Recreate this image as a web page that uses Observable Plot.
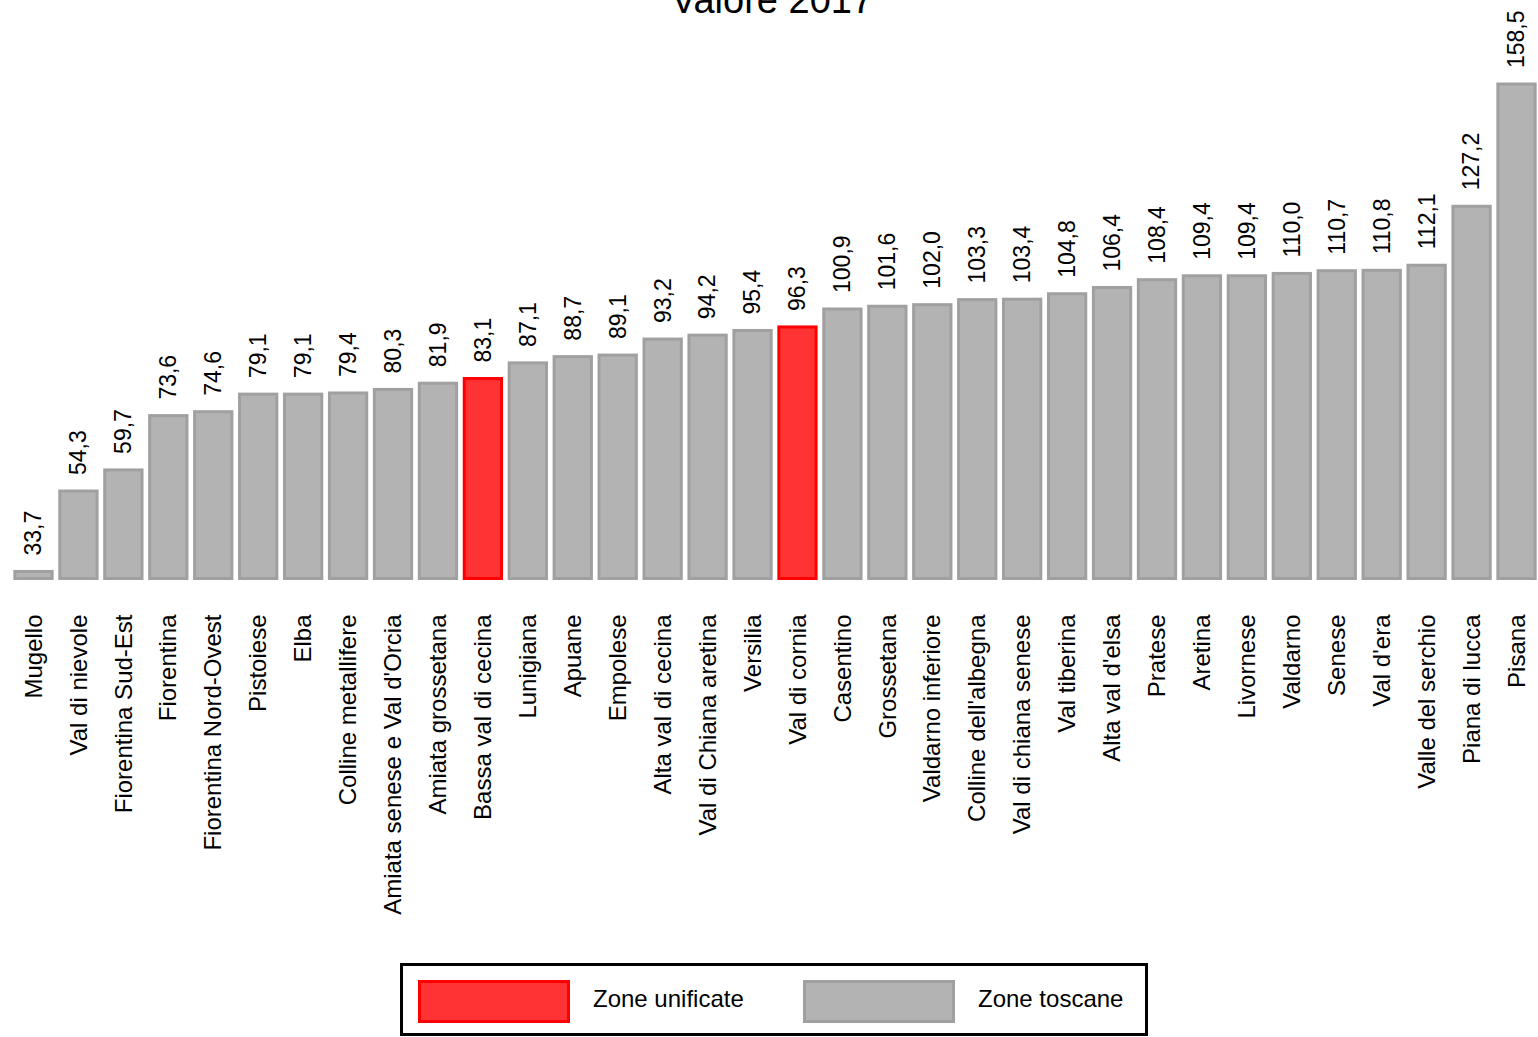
<!DOCTYPE html>
<html>
<head>
<meta charset="utf-8">
<script src="https://cdn.jsdelivr.net/npm/d3@7"></script>
<script src="https://cdn.jsdelivr.net/npm/@observablehq/plot@0.6"></script>
<style>
  html, body { margin: 0; padding: 0; background: #fff; }
  body { position: relative; width: 1538px; height: 1037px; overflow: hidden; font-family: "Liberation Sans", Arial, sans-serif; }
  #title { position: absolute; z-index: 2; left: 0; width: 1544px; top: -19px; text-align: center; font-size: 38px; line-height: 38px; color: #000; }
  #chart { position: absolute; z-index: 1; left: 0; top: 0; }
  #legend { position: absolute; z-index: 2; left: 400px; top: 963px; width: 748px; height: 73px; box-sizing: border-box; border: 3px solid #000; background: #fff; }
  .sw { position: absolute; top: 14px; width: 152px; height: 43px; box-sizing: border-box; border: 3px solid; }
  .lt { position: absolute; top: 21px; font-size: 24px; line-height: 24px; color: #000; white-space: nowrap; }
</style>
</head>
<body>
<div id="chart"></div>
<div id="title">Valore 2017</div>
<div id="legend"></div>
<script>
const zone = [
  "Mugello", "Val di nievole", "Fiorentina Sud-Est", "Fiorentina", "Fiorentina Nord-Ovest",
  "Pistoiese", "Elba", "Colline metallifere", "Amiata senese e Val d'Orcia", "Amiata grossetana",
  "Bassa val di cecina", "Lunigiana", "Apuane", "Empolese", "Alta val di cecina",
  "Val di Chiana aretina", "Versilia", "Val di cornia", "Casentino", "Grossetana",
  "Valdarno inferiore", "Colline dell'albegna", "Val di chiana senese", "Val tiberina", "Alta val d'elsa",
  "Pratese", "Aretina", "Livornese", "Valdarno", "Senese",
  "Val d'era", "Valle del serchio", "Piana di lucca", "Pisana"
];
const valore = [
  33.7, 54.3, 59.7, 73.6, 74.6,
  79.1, 79.1, 79.4, 80.3, 81.9,
  83.1, 87.1, 88.7, 89.1, 93.2,
  94.2, 95.4, 96.3, 100.9, 101.6,
  102.0, 103.3, 103.4, 104.8, 106.4,
  108.4, 109.4, 109.4, 110.0, 110.7,
  110.8, 112.1, 127.2, 158.5
];
const zoneUnificate = ["Bassa val di cecina", "Val di cornia"];
const legendLabels = ["Zone unificate", "Zone toscane"];
const fillColors = ["#ff3333", "#b3b3b3"];
const strokeColors = ["#ff0000", "#a0a0a0"];

const yMin = 31.9;
const data = zone.map((z, i) => ({
  zona: z,
  valore: valore[i],
  tipo: zoneUnificate.includes(z) ? legendLabels[0] : legendLabels[1]
}));
const fmt = v => v.toFixed(1).replace(".", ",");

const chart = Plot.plot({
  width: 1538,
  height: 950,
  marginTop: 84,
  marginBottom: 371.5,
  marginLeft: 7,
  marginRight: 0,
  style: { fontFamily: "'Liberation Sans', Arial, sans-serif", fontSize: "24px", color: "#000", background: "transparent" },
  x: { domain: zone, padding: 0.17, range: [7.2, 1542.8], label: null },
  y: { domain: [yMin, 158.5], axis: null },
  marks: [
    Plot.barY(data, {
      x: "zona",
      y1: yMin,
      y2: "valore",
      fill: d => d.tipo === legendLabels[0] ? fillColors[0] : fillColors[1],
      stroke: d => d.tipo === legendLabels[0] ? strokeColors[0] : strokeColors[1],
      strokeWidth: 3
    }),
    Plot.text(data, {
      x: "zona",
      y: "valore",
      text: d => fmt(d.valore),
      rotate: -90,
      textAnchor: "start",
      lineAnchor: "middle",
      dy: -16.5,
      fontSize: 23,
      fill: "#000"
    }),
    Plot.axisX({
      tickRotate: -90,
      tickSize: 0,
      tickPadding: 35.5,
      fontSize: 24,
      label: null,
      fill: "#000"
    })
  ]
});
document.getElementById("chart").appendChild(chart);

const legend = document.getElementById("legend");
const swLeft = [15, 400];
const txLeft = [190, 575];
legendLabels.forEach((lab, i) => {
  const sw = document.createElement("div");
  sw.className = "sw";
  sw.style.left = swLeft[i] + "px";
  sw.style.background = fillColors[i];
  sw.style.borderColor = strokeColors[i];
  legend.appendChild(sw);
  const t = document.createElement("div");
  t.className = "lt";
  t.style.left = txLeft[i] + "px";
  t.textContent = lab;
  legend.appendChild(t);
});
</script>
</body>
</html>
